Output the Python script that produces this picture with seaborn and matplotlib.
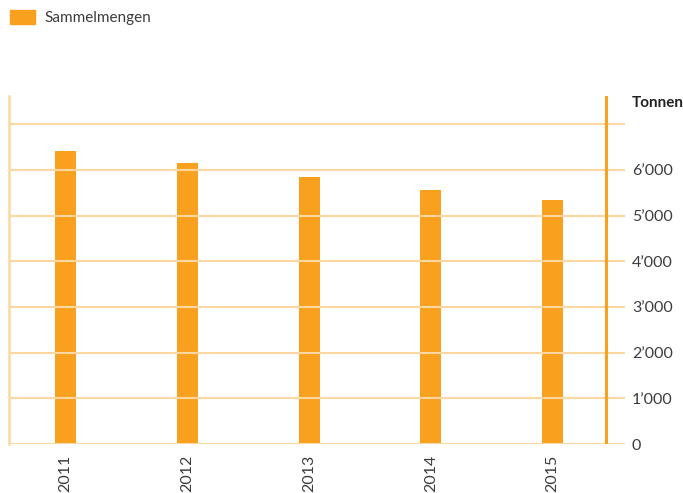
import matplotlib
matplotlib.use("Agg")
import matplotlib.pyplot as plt
from matplotlib.ticker import FuncFormatter, MultipleLocator
import seaborn as sns
import pandas as pd

years = ["2011", "2012", "2013", "2014", "2015"]
tonnen = [6420, 6150, 5850, 5560, 5340]
series_name = "Sammelmengen"

bar_color = "#F9A11F"
grid_color = "#FDD7A2"
text_color = "#3C3C3C"

sns.set_theme(style="white")
plt.rcParams["font.family"] = ["Lato", "DejaVu Sans"]

df = pd.DataFrame({"Jahr": years, "Tonnen": tonnen, "Serie": series_name})

fig = plt.figure(figsize=(6.83, 4.93), dpi=100)
ax = fig.add_axes([9 / 683, 1 - 444 / 493, (625 - 9) / 683, (444 - 96) / 493])

sns.barplot(data=df, x="Jahr", y="Tonnen", hue="Serie", palette=[bar_color],
            width=0.1725, ax=ax, legend=False, saturation=1, linewidth=0,
            zorder=1)

ax.set_xlim(-0.464, 4.595)
ax.set_ylim(0, 7620)
ax.yaxis.set_major_locator(MultipleLocator(1000))
ax.yaxis.grid(True, color=grid_color, linewidth=1.5, zorder=3)
ax.set_axisbelow(False)
for b in ax.patches:
    b.set_zorder(1)

def fmt(v, pos):
    if v > 6500:
        return ""
    return f"{int(v):,}".replace(",", "\u2019")

ax.yaxis.set_major_formatter(FuncFormatter(fmt))
ax.yaxis.tick_right()
ax.tick_params(axis="y", length=0, pad=5, labelsize=11.5, labelcolor=text_color)
ax.tick_params(axis="x", length=0, pad=8, labelsize=11.5, labelcolor=text_color,
               rotation=90)
ax.set_xlabel("")
ax.set_ylabel("")

for side in ["top", "right", "bottom"]:
    ax.spines[side].set_visible(False)
ax.spines["left"].set_color(grid_color)
ax.spines["left"].set_linewidth(1.8)

# strong vertical rule next to the value scale
ax.axvline(4.44, color=bar_color, linewidth=2.2, zorder=4)

fig.text(632 / 683, 1 - 103 / 493, "Tonnen", fontsize=11, fontweight="bold",
         color="#222222", ha="left", va="center")

handles = [plt.Rectangle((0, 0), 1, 1, color=bar_color)]
fig.legend(handles, [series_name], loc="upper left", bbox_to_anchor=(0.0, 1.0),
           frameon=False, fontsize=11, handlelength=1.65, handleheight=1.0,
           handletextpad=0.6, borderaxespad=0.35, borderpad=0.3,
           labelcolor=text_color)

fig.savefig("out.png", dpi=100)
